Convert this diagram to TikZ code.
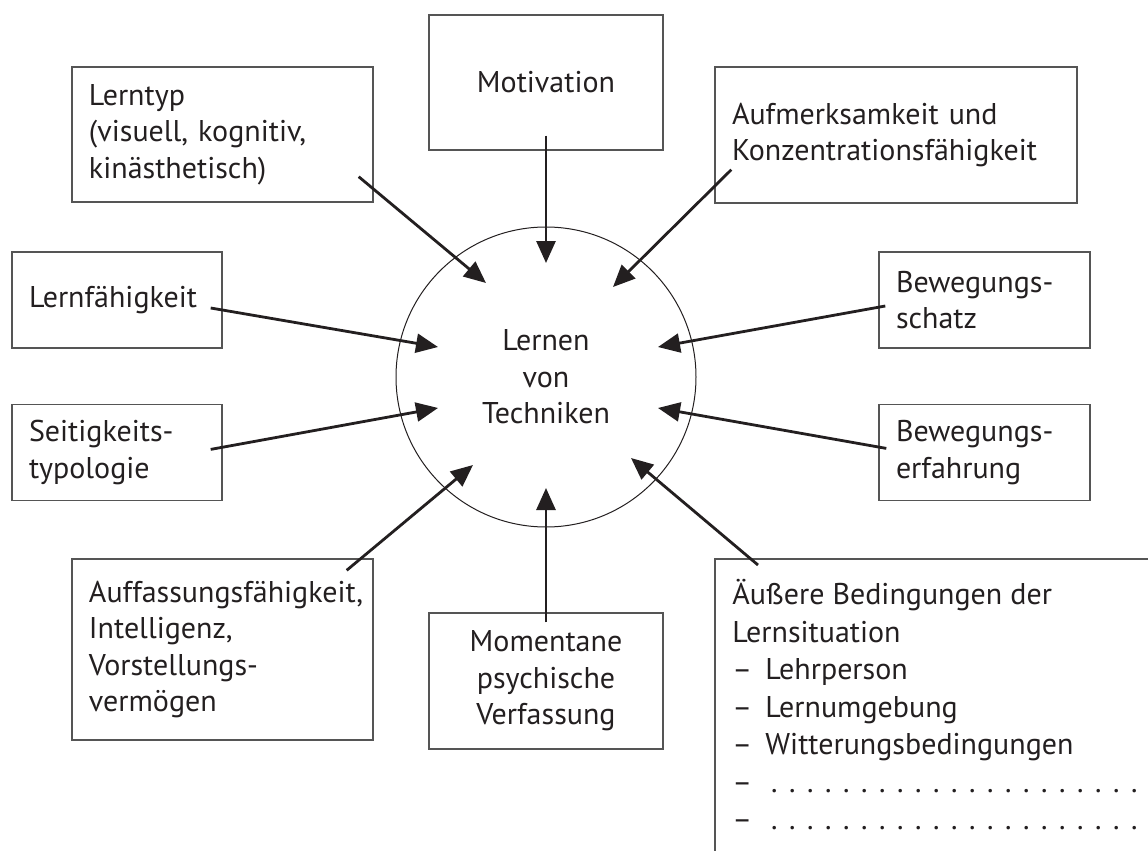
\documentclass[tikz,border=0pt]{standalone}
\usepackage{fontspec}
\setmainfont{PT Sans}
\usetikzlibrary{arrows.meta, positioning, calc}
\definecolor{inkgray}{RGB}{35,31,32}
\definecolor{framegray}{RGB}{85,85,85}
\newcommand{\listdash}{\makebox[16.5pt][l]{–}}
\newcommand{\dotrow}{\hbox to 189pt{\leaders\hbox to 9pt{\hss.\hss}\hfill}}

\begin{document}
\begin{tikzpicture}[
    x=0.5pt, y=-0.5pt,
    font=\fontsize{15pt}{18.25pt}\selectfont,
    box/.style={rectangle, draw=framegray, line width=0.7pt, text=inkgray,
                inner xsep=8.5pt, inner ysep=0pt, align=left},
    cbox/.style={box, align=center, minimum width=117pt, minimum height=68pt},
    arrow/.style={-{Triangle[length=11pt, width=9.5pt]}, line width=1.4pt, inkgray}
]
    \useasboundingbox (0,0) rectangle (1148,851);

    % Nodes
    \node[circle, draw=inkgray, line width=0.5pt, minimum size=150pt,
          align=center, text=inkgray] (lernen) at (546,377) {Lernen\\von\\Techniken};
    \node[cbox, minimum height=67.5pt] (motivation) at (546,82.5) {Motivation};
    \node[box, text width=133.5pt, minimum height=67.5pt] (lerntyp) at (222.5,134.5)
        {Lerntyp\\(visuell, kognitiv,\\kinästhetisch)};
    \node[box, text width=164pt, minimum height=68pt] (aufmerksamkeit) at (896,135)
        {Aufmerksamkeit und\\Konzentrationsfähigkeit};
    \node[box, text width=88pt, minimum height=48pt] (lernfaehigkeit) at (117,300) {Lernfähigkeit};
    \node[box, text width=88pt, minimum height=48pt, below=27.5pt of lernfaehigkeit] (seitigkeit)
        {Seitigkeits-\\typologie};
    \node[box, text width=88.5pt, minimum height=48pt] (bewschatz) at (984.5,300)
        {Bewegungs-\\schatz};
    \node[box, text width=88.5pt, minimum height=48pt, below=27.5pt of bewschatz] (beweerfahrung)
        {Bewegungs-\\erfahrung};
    \node[box, text width=133.5pt, minimum height=90.5pt] (auffassung) at (222.5,649.5)
        {Auffassungsfähigkeit,\\Intelligenz,\\Vorstellungs-\\vermögen};
    \node[cbox] (momentan) at (546,681) {Momentane\\psychische\\Verfassung};
    \node[anchor=north west, inner xsep=8.5pt, inner ysep=10pt, align=left, text=inkgray,
          font=\fontsize{15pt}{18.75pt}\selectfont]
        (aeussere) at (715,559)
        {Äußere Bedingungen der\\Lernsituation\\\listdash Lehrperson\\\listdash Lernumgebung\\
         \listdash Witterungsbedingungen\\\listdash\dotrow\\\listdash\dotrow};
    \draw[framegray, line width=0.7pt] (715,851) |- (1148,559);

    % Arrows
    \draw[arrow] ([shift={(-15,-26)}]lerntyp.south east) -- ([shift={(-60,-94)}]lernen.center);
    \draw[arrow] ([yshift=7.5pt]motivation.south) -- ([shift={(0,-114)}]lernen.center);
    \draw[arrow] ([shift={(17,-34)}]aufmerksamkeit.south west) -- ([shift={(67,-90)}]lernen.center);
    \draw[arrow] ([shift={(-12,8)}]lernfaehigkeit.east) -- ([shift={(-108,-30)}]lernen.center);
    \draw[arrow] ([shift={(-12,-3)}]seitigkeit.east) -- ([shift={(-108,31)}]lernen.center);
    \draw[arrow] ([shift={(-27,12)}]auffassung.north east) -- ([shift={(-73,88)}]lernen.center);
    \draw[arrow] ([yshift=-5pt]momentan.north) -- ([shift={(0,111)}]lernen.center);
    \draw[arrow] ([shift={(43,6)}]aeussere.north west) -- ([shift={(85,81)}]lernen.center);
    \draw[arrow] ([shift={(7,6)}]bewschatz.west) -- ([shift={(112,-30)}]lernen.center);
    \draw[arrow] ([shift={(8,-4)}]beweerfahrung.west) -- ([shift={(112,31)}]lernen.center);
\end{tikzpicture}
\end{document}
